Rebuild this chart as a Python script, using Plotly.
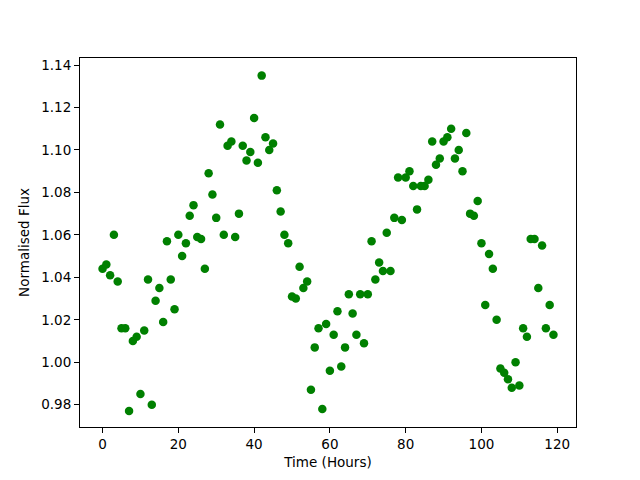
import plotly.graph_objects as go

time_hours = list(range(120))
flux = [
    1.044, 1.046, 1.041, 1.060, 1.038, 1.016, 1.016, 0.977, 1.010, 1.012,
    0.985, 1.015, 1.039, 0.980, 1.029, 1.035, 1.019, 1.057, 1.039, 1.025,
    1.060, 1.050, 1.056, 1.069, 1.074, 1.059, 1.058, 1.044, 1.089, 1.079,
    1.068, 1.112, 1.060, 1.102, 1.104, 1.059, 1.070, 1.102, 1.095, 1.099,
    1.115, 1.094, 1.135, 1.106, 1.100, 1.103, 1.081, 1.071, 1.060, 1.056,
    1.031, 1.030, 1.045, 1.035, 1.038, 0.987, 1.007, 1.016, 0.978, 1.018,
    0.996, 1.013, 1.024, 0.998, 1.007, 1.032, 1.023, 1.013, 1.032, 1.009,
    1.032, 1.057, 1.039, 1.047, 1.043, 1.061, 1.043, 1.068, 1.087, 1.067,
    1.087, 1.090, 1.083, 1.072, 1.083, 1.083, 1.086, 1.104, 1.093, 1.096,
    1.104, 1.106, 1.110, 1.096, 1.100, 1.090, 1.108, 1.070, 1.069, 1.076,
    1.056, 1.027, 1.051, 1.044, 1.020, 0.997, 0.995, 0.992, 0.988, 1.000,
    0.989, 1.016, 1.012, 1.058, 1.058, 1.035, 1.055, 1.016, 1.027, 1.013,
]
x_ticks = [0, 20, 40, 60, 80, 100, 120]
y_ticks = [0.98, 1.00, 1.02, 1.04, 1.06, 1.08, 1.10, 1.12, 1.14]

fig = go.Figure(go.Scatter(
    x=time_hours, y=flux, mode="markers",
    marker=dict(color="#008000", size=8.5, line=dict(width=0)),
))

axis_common = dict(
    showline=True, linecolor="black", linewidth=1, mirror=True,
    ticks="outside", ticklen=5, tickwidth=1, tickcolor="black",
    showgrid=False, zeroline=False,
    tickfont=dict(family="DejaVu Sans", size=13.5, color="black"),
)
fig.update_xaxes(range=[-5.95, 124.95], tickvals=x_ticks,
                 title=dict(text="Time (Hours)", standoff=6,
                            font=dict(family="DejaVu Sans", size=13.5, color="black")),
                 **axis_common)
fig.update_yaxes(range=[0.9695, 1.1433], tickvals=y_ticks, tickformat=".2f",
                 title=dict(text="Normalised Flux", standoff=8,
                            font=dict(family="DejaVu Sans", size=13.5, color="black")),
                 **axis_common)
fig.update_layout(
    width=640, height=480,
    margin=dict(l=72, r=72, t=50, b=61, autoexpand=False),
    plot_bgcolor="white", paper_bgcolor="white",
    showlegend=False,
)
fig.write_html("out.html")
